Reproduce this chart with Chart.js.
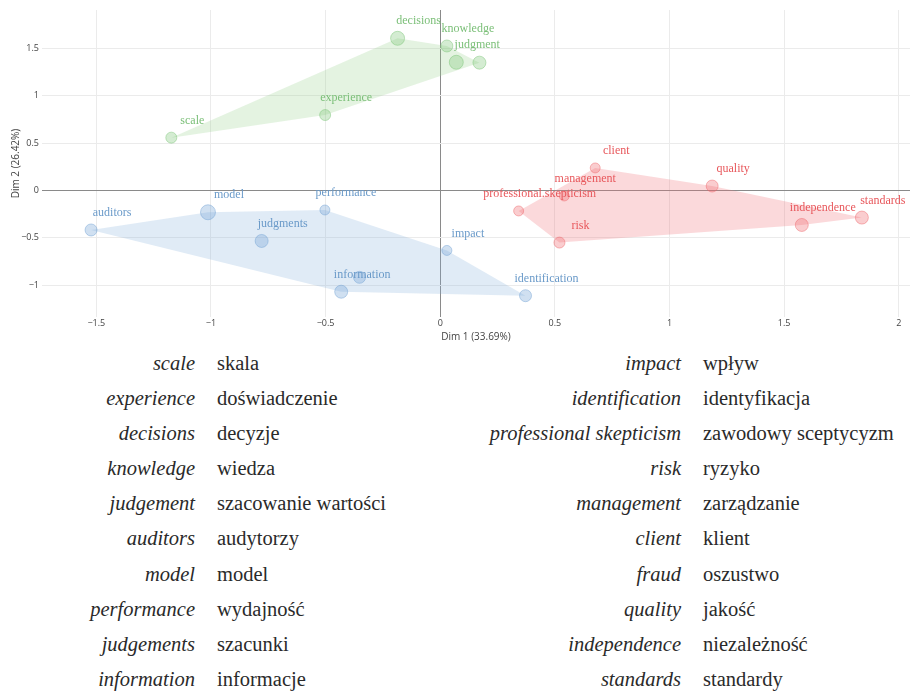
<!DOCTYPE html>
<html>
<head>
<meta charset="utf-8">
<script src="https://cdn.jsdelivr.net/npm/chart.js@4.4.1/dist/chart.umd.min.js"></script>
<style>
  body { margin: 0; background: #fff; }
  #wrap { position: relative; width: 911px; height: 691px; }
  #plot { position: absolute; left: 0; top: 0; }
  .col { position: absolute; top: 346px; left: 0; width: 911px; }
  .row { position: relative; height: 35.1px; line-height: 35.1px; white-space: nowrap; color: #2a2a2a; }
</style>
</head>
<body>
<div id="wrap">
  <canvas id="plot" width="911" height="345"></canvas>
  <div id="glossLeft" class="col"></div>
  <div id="glossRight" class="col"></div>
</div>
<script>
// cluster 1 (green)
const greenLabels = ['scale', 'experience', 'decisions', 'knowledge', 'judgment', ''];
const greenX = [-1.173, -0.502, -0.186, 0.029, 0.070, 0.171];
const greenY = [0.558, 0.797, 1.607, 1.526, 1.354, 1.350];
const greenR = [5.5, 5.5, 7, 6, 7, 6.5];

// cluster 2 (blue)
const blueLabels = ['auditors', 'model', 'judgments', 'performance', 'information', '', 'impact', 'identification'];
const blueX = [-1.523, -1.013, -0.779, -0.503, -0.432, -0.352, 0.029, 0.372];
const blueY = [-0.417, -0.230, -0.533, -0.206, -1.069, -0.917, -0.633, -1.111];
const blueR = [6, 7.5, 6.5, 5, 6.5, 6, 5, 6];

// cluster 3 (red)
const redLabels = ['professional.skepticism', 'management', 'client', 'risk', 'quality', 'independence', 'standards'];
const redX = [0.342, 0.541, 0.676, 0.520, 1.186, 1.577, 1.839];
const redY = [-0.216, -0.058, 0.238, -0.550, 0.047, -0.364, -0.286];
const redR = [5, 5, 5, 5.5, 6, 6.5, 6.5];

const xTicks = [-1.5, -1, -0.5, 0, 0.5, 1, 1.5, 2];
const yTicks = [-1, -0.5, 0, 0.5, 1, 1.5];

// glossary
const glossEnLeft = ['scale', 'experience', 'decisions', 'knowledge', 'judgement', 'auditors', 'model', 'performance', 'judgements', 'information'];
const glossPlLeft = ['skala', 'doświadczenie', 'decyzje', 'wiedza', 'szacowanie wartości', 'audytorzy', 'model', 'wydajność', 'szacunki', 'informacje'];
const glossEnRight = ['impact', 'identification', 'professional skepticism', 'risk', 'management', 'client', 'fraud', 'quality', 'independence', 'standards'];
const glossPlRight = ['wpływ', 'identyfikacja', 'zawodowy sceptycyzm', 'ryzyko', 'zarządzanie', 'klient', 'oszustwo', 'jakość', 'niezależność', 'standardy'];

function buildPoints(xs, ys, rs) {
    return xs.map((x, i) => ({ x: x, y: ys[i], r: rs[i] }));
}

function hull(pts) {
    const p = pts.slice().sort((a, b) => a.x - b.x || a.y - b.y);
    const cross = (o, a, b) => (a.x - o.x) * (b.y - o.y) - (a.y - o.y) * (b.x - o.x);
    const lower = [], upper = [];
    p.forEach(pt => {
        while (lower.length >= 2 && cross(lower[lower.length - 2], lower[lower.length - 1], pt) <= 0) lower.pop();
        lower.push(pt);
    });
    p.slice().reverse().forEach(pt => {
        while (upper.length >= 2 && cross(upper[upper.length - 2], upper[upper.length - 1], pt) <= 0) upper.pop();
        upper.push(pt);
    });
    upper.pop(); lower.pop();
    return lower.concat(upper);
}

const hullPlugin = {
    id: 'hulls',
    beforeDatasetsDraw(chart) {
        const ctx = chart.ctx;
        const xs = chart.scales.x, ys = chart.scales.y;
        ctx.save();
        chart.data.datasets.forEach(ds => {
            const px = ds.data.map(d => ({ x: xs.getPixelForValue(d.x), y: ys.getPixelForValue(d.y) }));
            const h = hull(px);
            ctx.beginPath();
            h.forEach((pt, i) => i ? ctx.lineTo(pt.x, pt.y) : ctx.moveTo(pt.x, pt.y));
            ctx.closePath();
            ctx.fillStyle = ds.hullColor;
            ctx.fill();
        });
        ctx.restore();
    }
};

const labelPlugin = {
    id: 'pointLabels',
    afterDatasetsDraw(chart) {
        const ctx = chart.ctx;
        const xs = chart.scales.x, ys = chart.scales.y;
        ctx.save();
        ctx.font = '12px "Liberation Serif", serif';
        ctx.textAlign = 'center';
        ctx.textBaseline = 'middle';
        chart.data.datasets.forEach(ds => {
            ctx.fillStyle = ds.textColor;
            ds.data.forEach((d, i) => {
                const t = ds.labels[i];
                if (!t) return;
                ctx.fillText(t, xs.getPixelForValue(d.x) + 21, ys.getPixelForValue(d.y) - 17);
            });
        });
        ctx.restore();
    }
};

const gridColor = ctx => ctx.tick && ctx.tick.value === 0 ? '#8a8a8a' : '#ebebeb';
const minus = v => String(v).replace('-', '\u2212');

new Chart(document.getElementById('plot'), {
    type: 'bubble',
    data: {
        datasets: [
            {
                data: buildPoints(greenX, greenY, greenR),
                labels: greenLabels,
                backgroundColor: 'rgba(120,195,115,0.32)',
                borderColor: 'rgba(120,195,115,0.45)',
                borderWidth: 1,
                hullColor: 'rgba(150,210,140,0.26)',
                textColor: '#7bbf78'
            },
            {
                data: buildPoints(blueX, blueY, blueR),
                labels: blueLabels,
                backgroundColor: 'rgba(110,160,210,0.32)',
                borderColor: 'rgba(110,160,210,0.45)',
                borderWidth: 1,
                hullColor: 'rgba(130,175,220,0.25)',
                textColor: '#6a9ac9'
            },
            {
                data: buildPoints(redX, redY, redR),
                labels: redLabels,
                backgroundColor: 'rgba(238,100,105,0.32)',
                borderColor: 'rgba(238,100,105,0.45)',
                borderWidth: 1,
                hullColor: 'rgba(240,120,125,0.28)',
                textColor: '#e8585c'
            }
        ]
    },
    options: {
        responsive: false,
        animation: false,
        devicePixelRatio: 1,
        layout: { autoPadding: false, padding: { left: 0, right: 1, top: 10, bottom: 0 } },
        plugins: { legend: { display: false }, tooltip: { enabled: false } },
        scales: {
            x: {
                type: 'linear',
                min: -1.737,
                max: 2.049,
                afterFit: s => { s.height = 28; },
                afterBuildTicks: s => { s.ticks = xTicks.map(v => ({ value: v })); },
                border: { display: false },
                grid: { color: gridColor, drawTicks: false },
                ticks: { padding: 1, color: '#444', font: { family: '"Open Sans"', size: 9 }, callback: minus },
                title: { display: true, text: 'Dim 1 (33.69%)', color: '#444', font: { family: '"Open Sans"', size: 10 }, padding: { top: 0, bottom: 2 } }
            },
            y: {
                type: 'linear',
                min: -1.336,
                max: 1.906,
                afterFit: s => { s.width = 42; },
                afterBuildTicks: s => { s.ticks = yTicks.map(v => ({ value: v })); },
                border: { display: false },
                grid: { color: gridColor, drawTicks: false },
                ticks: { padding: 3, color: '#444', font: { family: '"Open Sans"', size: 9 }, callback: minus },
                title: { display: true, text: 'Dim 2 (26.42%)', color: '#444', font: { family: '"Open Sans"', size: 10 }, padding: { top: 10, bottom: 0 } }
            }
        }
    },
    plugins: [hullPlugin, labelPlugin]
});

const glossFont = "font-family:'Liberation Serif';font-size:20.5px;position:absolute;";

function fillGloss(el, en, pl, enRight, plLeft) {
    en.forEach((word, i) => {
        const row = document.createElement('div');
        row.className = 'row';
        row.innerHTML = `<span style="${glossFont}font-style:italic;text-align:right;right:${911 - enRight}px">${word}</span>` +
                        `<span style="${glossFont}left:${plLeft}px">${pl[i]}</span>`;
        el.appendChild(row);
    });
}

fillGloss(document.getElementById('glossLeft'), glossEnLeft, glossPlLeft, 195, 217);
fillGloss(document.getElementById('glossRight'), glossEnRight, glossPlRight, 681, 703);
</script>
</body>
</html>
